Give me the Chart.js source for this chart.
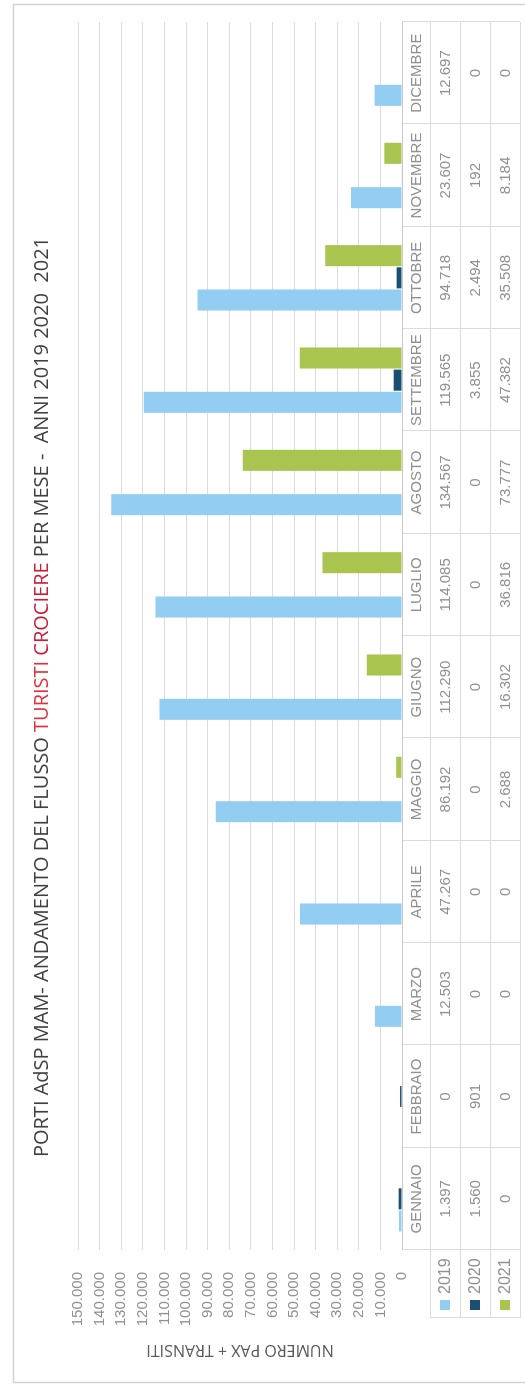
<!DOCTYPE html>
<html>
<head>
<meta charset="utf-8">
<script src="https://cdn.jsdelivr.net/npm/chart.js@4.4.1/dist/chart.umd.min.js"></script>
<style>
html, body { margin: 0; padding: 0; background: #fff; overflow: hidden; }
#page { width: 525px; height: 1386px; position: relative; }
/* the chart is drawn landscape and turned a quarter to the left */
#rot { position: absolute; left: 0; top: 0; width: 1386px; height: 525px;
       transform-origin: 0 0; transform: translateY(1386px) rotate(-90deg); }
canvas { display: block; }
</style>
</head>
<body>
<div id="page"><div id="rot"><canvas id="chart" width="1386" height="525"></canvas></div></div>
<script>
const months = ['GENNAIO', 'FEBBRAIO', 'MARZO', 'APRILE', 'MAGGIO', 'GIUGNO', 'LUGLIO', 'AGOSTO', 'SETTEMBRE', 'OTTOBRE', 'NOVEMBRE', 'DICEMBRE'];
const years = ['2019', '2020', '2021'];
const pax2019 = [1397, 0, 12503, 47267, 86192, 112290, 114085, 134567, 119565, 94718, 23607, 12697];
const pax2020 = [1560, 901, 0, 0, 0, 0, 0, 0, 3855, 2494, 192, 0];
const pax2021 = [0, 0, 0, 0, 2688, 16302, 36816, 73777, 47382, 35508, 8184, 0];
const yMax = 150000;
const yStep = 10000;

const colors = ['#94cdf2', '#1b4f72', '#a9c44f'];
const titleParts = [
    ['PORTI AdSP MAM- ANDAMENTO DEL FLUSSO ', '#404040'],
    ['TURISTI ', '#e0303e'],
    ['CROCIERE', '#c9203a'],
    [' PER MESE -  ANNI 2019 2020  2021', '#404040'],
];

const fmt = (v) => String(v).replace(/\B(?=(\d{3})+(?!\d))/g, '.');
const tableFont = '15px "Liberation Sans", Arial, sans-serif';
const tableColor = '#909090';
const lineColor = '#dcdcdc';

const frameAndTable = {
    id: 'frameAndTable',
    beforeDraw(chart) {
        const ctx = chart.ctx;
        ctx.save();
        ctx.strokeStyle = '#d2d2d2';
        ctx.lineWidth = 1.5;
        ctx.strokeRect(3.5, 13.5, 1378, 600);
        ctx.restore();
    },
    afterDraw(chart) {
        const {ctx, chartArea, scales: {x}} = chart;
        const half = (chartArea.right - chartArea.left) / months.length / 2;
        const top = chartArea.bottom;
        const rows = [top, top + 28, top + 58, top + 88, top + 118];
        const tableLeft = 68;

        ctx.save();
        // grid of the data table
        ctx.strokeStyle = lineColor;
        ctx.lineWidth = 1;
        ctx.beginPath();
        rows.slice(1).forEach(r => {
            ctx.moveTo(tableLeft, r + 0.5);
            ctx.lineTo(chartArea.right, r + 0.5);
        });
        ctx.moveTo(tableLeft + 0.5, rows[1]);
        ctx.lineTo(tableLeft + 0.5, rows[4]);
        months.forEach((m, i) => {
            const c = x.getPixelForValue(i);
            ctx.moveTo(Math.round(c - half) + 0.5, top);
            ctx.lineTo(Math.round(c - half) + 0.5, rows[4]);
        });
        ctx.moveTo(chartArea.right + 0.5, top);
        ctx.lineTo(chartArea.right + 0.5, rows[4]);
        ctx.stroke();

        // axis line at zero
        ctx.strokeStyle = '#c8c8c8';
        ctx.beginPath();
        ctx.moveTo(chartArea.left, top + 0.5);
        ctx.lineTo(chartArea.right, top + 0.5);
        ctx.stroke();

        ctx.font = tableFont;
        ctx.fillStyle = tableColor;
        ctx.textAlign = 'center';
        ctx.textBaseline = 'middle';
        months.forEach((m, i) => {
            const c = x.getPixelForValue(i);
            ctx.fillText(m, c, (rows[0] + rows[1]) / 2 + 1);
            chart.data.datasets.forEach((ds, d) => {
                ctx.fillText(fmt(ds.data[i]), c, (rows[d + 1] + rows[d + 2]) / 2 + 1);
            });
        });

        // legend keys in the row headers
        chart.data.datasets.forEach((ds, d) => {
            const cy = (rows[d + 1] + rows[d + 2]) / 2;
            ctx.fillStyle = ds.backgroundColor;
            ctx.fillRect(76, cy - 5, 10, 10);
            ctx.fillStyle = tableColor;
            ctx.textAlign = 'left';
            ctx.font = '16px "Liberation Sans", Arial, sans-serif';
            ctx.fillText(ds.label, 92, cy + 1);
        });

        // title with coloured words
        ctx.font = '20px "Open Sans", sans-serif';
        ctx.textAlign = 'left';
        const widths = titleParts.map(p => ctx.measureText(p[0]).width);
        let tx = 689 - widths.reduce((a, b) => a + b, 0) / 2;
        titleParts.forEach((p, i) => {
            ctx.fillStyle = p[1];
            ctx.fillText(p[0], tx, 42);
            tx += widths[i];
        });
        ctx.restore();
    }
};

new Chart(document.getElementById('chart').getContext('2d'), {
    type: 'bar',
    data: {
        labels: months,
        datasets: [
            { label: years[0], data: pax2019, backgroundColor: colors[0] },
            { label: years[1], data: pax2020, backgroundColor: colors[1] },
            { label: years[2], data: pax2021, backgroundColor: colors[2] },
        ],
    },
    options: {
        responsive: false,
        animation: false,
        categoryPercentage: 0.65,
        barPercentage: 0.95,
        layout: { padding: { top: 78, right: 22, bottom: 123, left: 0 } },
        plugins: {
            legend: { display: false },
            tooltip: { enabled: false },
        },
        scales: {
            x: { display: false },
            y: {
                min: 0,
                max: yMax,
                ticks: {
                    stepSize: yStep,
                    callback: (v) => fmt(v),
                    color: tableColor,
                    font: { family: '"Liberation Sans", Arial, sans-serif', size: 15 },
                    padding: 22,
                },
                grid: { color: lineColor, drawTicks: false },
                border: { display: false },
                title: {
                    display: true,
                    text: 'NUMERO PAX + TRANSITI',
                    color: '#595959',
                    font: { family: '"Open Sans", sans-serif', size: 16 },
                    padding: { top: 27, bottom: 0 },
                },
                afterFit: (scale) => { scale.width = 136; },
            },
        },
    },
    plugins: [frameAndTable],
});
</script>
</body>
</html>
